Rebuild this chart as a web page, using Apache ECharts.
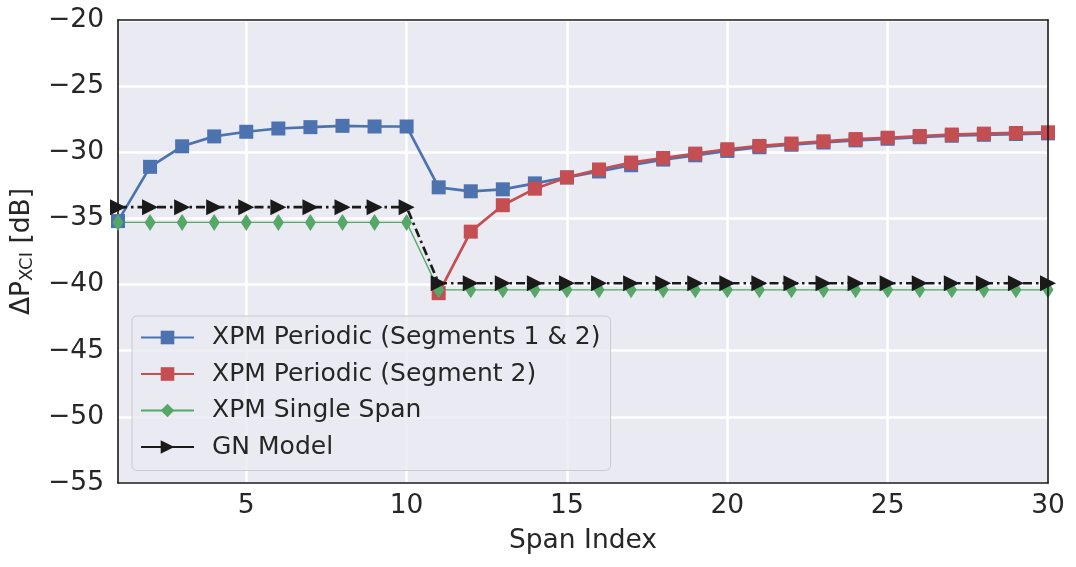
<!DOCTYPE html>
<html>
<head>
<meta charset="utf-8">
<script src="https://cdn.jsdelivr.net/npm/echarts@6/dist/echarts.min.js"></script>
<style>
  html, body { margin: 0; padding: 0; background: #fff; }
  #chart { width: 1076px; height: 567px; }
</style>
</head>
<body>
<div id="chart"></div>
<script>
// span index on x
var spans = [1,2,3,4,5,6,7,8,9,10,11,12,13,14,15,16,17,18,19,20,21,22,23,24,25,26,27,28,29,30];
var xTicks = [5, 10, 15, 20, 25, 30];

// values (dB)
var periodicBoth = [-35.2, -31.1, -29.55, -28.8, -28.45, -28.2, -28.1, -28.0, -28.05, -28.05,
  -32.65, -32.95, -32.8, -32.35, -31.9, -31.45, -30.98, -30.55, -30.23, -29.9,
  -29.62, -29.43, -29.26, -29.1, -28.98, -28.86, -28.75, -28.68, -28.62, -28.57];
var periodicSeg2 = ['-', '-', '-', '-', '-', '-', '-', '-', '-', '-',
  -40.65, -36.0, -34.0, -32.75, -31.9, -31.3, -30.78, -30.43, -30.1, -29.77,
  -29.52, -29.34, -29.17, -29.0, -28.9, -28.77, -28.66, -28.59, -28.54, -28.49];
var singleSpan = [-35.3, -35.3, -35.3, -35.3, -35.3, -35.3, -35.3, -35.3, -35.3, -35.3,
  -40.4, -40.4, -40.4, -40.4, -40.4, -40.4, -40.4, -40.4, -40.4, -40.4,
  -40.4, -40.4, -40.4, -40.4, -40.4, -40.4, -40.4, -40.4, -40.4, -40.4];
var gnModel = [-34.15, -34.15, -34.15, -34.15, -34.15, -34.15, -34.15, -34.15, -34.15, -34.15,
  -39.9, -39.9, -39.9, -39.9, -39.9, -39.9, -39.9, -39.9, -39.9, -39.9,
  -39.9, -39.9, -39.9, -39.9, -39.9, -39.9, -39.9, -39.9, -39.9, -39.9];

var FONT = 'DejaVu Sans';
var TXT = '#262626';
var SPINE = { show: true, lineStyle: { color: '#1a1a1a', width: 1.6 } };

function pairs(ys) {
  return spans.map(function (x, i) { return [x, ys[i]]; });
}
function minus(v) { return String(v).replace('-', '\u2212'); }

var myChart = echarts.init(document.getElementById('chart'));
var option = {
  animation: false,
  textStyle: { fontFamily: FONT },
  grid: {
    left: 118, right: 28, top: 20, bottom: 84,
    show: true, backgroundColor: '#EAEAF2', borderWidth: 0
  },
  xAxis: [{
    type: 'value', min: 1, max: 30, z: 2,
    name: 'Span Index', nameLocation: 'middle', nameGap: 45,
    nameTextStyle: { fontSize: 26.5, color: TXT, fontFamily: FONT },
    axisLine: SPINE,
    axisTick: { show: false, customValues: xTicks },
    axisLabel: { customValues: xTicks, fontSize: 26.5, color: TXT, margin: 10, fontFamily: FONT },
    splitLine: { show: true, lineStyle: { color: '#fff', width: 2.5 } }
  }, {
    // top spine
    type: 'value', min: 1, max: 30, position: 'top', z: 4,
    axisLine: SPINE, axisTick: { show: false }, axisLabel: { show: false }, splitLine: { show: false }
  }],
  yAxis: [{
    type: 'value', min: -55, max: -20, interval: 5, z: 1,
    name: '{a|\u0394P}{b|XCI}{a| [dB]}', nameLocation: 'middle', nameGap: 82, nameRotate: 90,
    nameTextStyle: {
      color: TXT, fontFamily: FONT,
      rich: {
        a: { fontSize: 26.5, color: TXT, fontFamily: FONT },
        b: { fontSize: 18, color: TXT, fontFamily: FONT, verticalAlign: 'bottom', padding: [9, 0, 0, 0] }
      }
    },
    axisLine: SPINE,
    axisTick: { show: false },
    axisLabel: { fontSize: 26.5, color: TXT, margin: 14, fontFamily: FONT, formatter: minus },
    splitLine: { show: true, lineStyle: { color: '#fff', width: 2.5 } }
  }, {
    // right spine
    type: 'value', min: -55, max: -20, position: 'right', z: 4,
    axisLine: SPINE, axisTick: { show: false }, axisLabel: { show: false }, splitLine: { show: false }
  }],
  legend: {
    orient: 'vertical', left: 132, top: 316,
    padding: [9, 10, 11, 8], itemGap: 11.5, itemWidth: 53, itemHeight: 17,
    backgroundColor: 'rgba(234,234,242,0.85)', borderColor: '#cccccc', borderWidth: 1, borderRadius: 5,
    textStyle: { fontSize: 25, color: TXT, fontFamily: FONT, padding: [0, 0, 0, 13] },
    data: [
      { name: 'XPM Periodic (Segments 1 & 2)' },
      { name: 'XPM Periodic (Segment 2)' },
      { name: 'XPM Single Span' },
      { name: 'GN Model', lineStyle: { type: 'solid' } }
    ]
  },
  series: [
    {
      name: 'XPM Periodic (Segments 1 & 2)', type: 'line', data: pairs(periodicBoth), z: 3,
      symbol: 'rect', symbolSize: 14, color: '#4C72B0',
      lineStyle: { width: 2.7 }, itemStyle: { color: '#4C72B0' }
    },
    {
      name: 'XPM Periodic (Segment 2)', type: 'line', data: pairs(periodicSeg2), z: 3,
      symbol: 'rect', symbolSize: 14, color: '#C44E52',
      lineStyle: { width: 2.7 }, itemStyle: { color: '#C44E52' }
    },
    {
      name: 'XPM Single Span', type: 'line', data: pairs(singleSpan), z: 3,
      symbol: 'diamond', symbolSize: [11, 17], color: '#55A868',
      lineStyle: { width: 1.3 }, itemStyle: { color: '#55A868' }
    },
    {
      name: 'GN Model', type: 'line', data: pairs(gnModel), z: 3,
      symbol: 'triangle', symbolRotate: -90, symbolSize: [16, 16], color: '#1a1a1a',
      lineStyle: { width: 2.7, type: [9, 4, 2.5, 4] }, itemStyle: { color: '#1a1a1a' }
    }
  ]
};
myChart.setOption(option);
window.addEventListener('resize', function () { myChart.resize(); });
</script>
</body>
</html>
